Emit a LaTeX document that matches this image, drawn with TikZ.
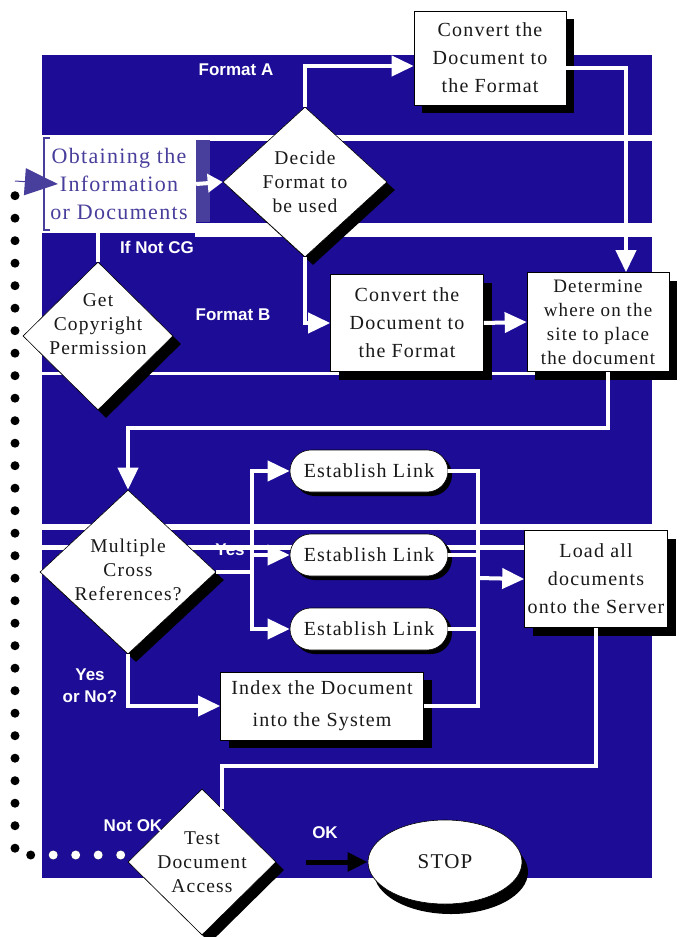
\documentclass[tikz,border=0pt]{standalone}
\usepackage{fontspec}
\setmainfont{Liberation Serif}[LetterSpace=6]
\newfontfamily\lblfont{Liberation Sans}
\usetikzlibrary{shapes.geometric,shapes.misc,arrows.meta,shadows,calc}
\definecolor{bgblue}{RGB}{28,12,150}
\definecolor{purp}{RGB}{72,62,155}
\definecolor{ink}{RGB}{25,25,25}

\begin{document}
\begin{tikzpicture}[x=1pt,y=-1pt,
  shadowed/.style={drop shadow={shadow xshift=8pt,shadow yshift=-8pt,fill=black,opacity=1}},
  stepbox/.style={rectangle, fill=white, draw=black, line width=0.6pt, shadowed,
    inner sep=2pt, align=center, text=ink, font=\fontsize{20}{28}\selectfont},
  decision/.style={diamond, fill=white, draw=black, line width=0.6pt, shadowed, inner sep=0pt},
  dtext/.style={align=center, text=ink, font=\fontsize{19.5}{24}\selectfont},
  linkpill/.style={rounded rectangle, fill=white, draw=black, line width=0.6pt,
    drop shadow={shadow xshift=4pt,shadow yshift=-4pt,fill=black,opacity=1},
    minimum width=158pt, minimum height=42pt, inner sep=0pt, text=ink,
    font=\fontsize{20}{24}\selectfont},
  flow/.style={draw=white, line width=4pt},
  flowarrow/.style={flow, -{Triangle[width=20pt,length=22pt]}},
  tag/.style={text=white, inner sep=0pt, align=center,
    font=\lblfont\bfseries\fontsize{17}{22}\selectfont},
  dotpath/.style={line width=9pt, line cap=round, dash pattern=on 0pt off 22.5pt, dash phase=15.5pt},
]
\useasboundingbox (0,0) rectangle (682,937);

% backdrop
\fill[bgblue] (42,55) rectangle (652,878);
\fill[white] (195,135) rectangle (652,141);
\fill[white] (195,223) rectangle (652,237);
\fill[white] (42,372) rectangle (652,374.5);
\fill[white] (0,524) rectangle (675,530);
\fill[white] (0,545) rectangle (530,550);

% process steps
\node[stepbox, minimum width=152pt, minimum height=94pt] (conv1) at (490,58)
  {Convert the\\Document to\\the Format};
\node[decision, minimum width=164pt, minimum height=150pt,
  label={[dtext]center:Decide\\Format to\\be used}] (decide) at (305,182) {};
\node[rectangle, fill=white, minimum width=154pt, minimum height=98pt, inner sep=0pt,
  align=center, text=purp, font=\fontsize{22}{28}\selectfont] (obtain) at (119,184)
  {Obtaining the\\Information\\or Documents};
\fill[purp] ([yshift=-5pt]obtain.north east) rectangle ([xshift=14pt,yshift=11pt]obtain.south east);
\draw[purp, line width=2.5pt] ([xshift=8pt,yshift=-3pt]obtain.north west) -- ([xshift=2pt,yshift=-3pt]obtain.north west)
  -- ([xshift=2pt,yshift=3pt]obtain.south west) -- ([xshift=8pt,yshift=3pt]obtain.south west);
\node[decision, minimum width=150pt, minimum height=148pt,
  label={[dtext,yshift=12pt]center:Get\\Copyright\\Permission}] (copyright) at (98,336) {};
\node[stepbox, minimum width=153pt, minimum height=97pt] (conv2) at (407,323)
  {Convert the\\Document to\\the Format};
\node[stepbox, minimum width=142pt, minimum height=99pt, font=\fontsize{19}{24}\selectfont]
  (determine) at (598,322) {Determine\\where on the\\site to place\\the document};
\node[decision, minimum width=176pt, minimum height=164pt,
  label={[dtext,yshift=2pt]center:Multiple\\Cross\\References?}] (multiple) at (128,572) {};
\node[linkpill] (link1) at (369,471) {Establish Link};
\node[linkpill] (link2) at (369,555) {Establish Link};
\node[linkpill] (link3) at (369,629) {Establish Link};
\node[stepbox, minimum width=143pt, minimum height=97pt] (load) at (596,579)
  {Load all\\documents\\onto the Server};
\node[stepbox, minimum width=203pt, minimum height=68pt, font=\fontsize{20}{32}\selectfont]
  (index) at (322,706) {Index the Document\\into the System};
\node[decision, minimum width=148pt, minimum height=146pt,
  label={[dtext]center:Test\\Document\\Access}] (test) at (202,862) {};
\node[ellipse, fill=white, draw=black, line width=0.6pt,
  drop shadow={shadow xshift=6pt,shadow yshift=-10pt,fill=black,opacity=1},
  minimum width=154pt, minimum height=84pt, text=ink, font=\fontsize{21}{24}\selectfont]
  (stop) at (445,862) {STOP};

% connectors
\draw[flow, -{Triangle[width=18pt,length=15pt]}] (obtain.east) -- (decide.west);
\draw[flowarrow] (decide.north) |- ([yshift=-8pt]conv1.west);
\draw[flowarrow] ([yshift=-10pt]conv1.east) -| ([xshift=28pt]determine.north);
\draw[flowarrow] (decide.south) |- (conv2.west);
\draw[flowarrow] (conv2.east) -- (determine.west);
\draw[flow] (copyright.north |- obtain.south) -- (copyright.north);
\draw[flowarrow] ([xshift=10pt]determine.south) -- ++(0,56) -| (multiple.north);

\coordinate (split) at (252,572);
\draw[flow] (multiple.east) -- (split);
\draw[flowarrow] (split) |- (link1.west);
\draw[flowarrow] (split |- link2.west) -- (link2.west);
\draw[flowarrow] (split) |- (link3.west);

\coordinate (merge) at (478,578);
\draw[flow] (link1.east) -| (merge);
\draw[flow] (link2.east) -| (merge);
\draw[flow] (link3.east) -| (merge);
\draw[flow] (index.east) -| (merge);
\draw[flowarrow] (merge) -- (load.west);

\draw[flowarrow] (multiple.south) |- (index.west);
\draw[flow] (load.south) -- ++(0,138) -| ([xshift=20pt,yshift=-20pt]test.north);
\draw[line width=5pt, black, -{Triangle[width=18pt,length=20pt]}, shorten <=30pt]
  (test.east) -- (stop.west);

% return path when access fails
\coordinate (loopc) at (15,181);
\draw[dotpath, black] ([yshift=7pt]test.west) -| (loopc);
\begin{scope}
  \clip (42,55) rectangle (652,878);
  \draw[dotpath, white] ([yshift=7pt]test.west) -| (loopc);
\end{scope}
\draw[purp, line width=1pt, -{Triangle[width=27pt,length=33pt]}] (loopc) -- ([xshift=16pt]obtain.west);

% branch labels
\node[tag] (fmtA) at (236,70) {Format A};
\node[tag] (notcg) at (157,247) {If Not CG};
\node[tag] (fmtB) at (233,315) {Format B};
\node[tag] (yes1) at (230,550) {Yes};
\node[tag] (yesno) at (90,686) {Yes\\or No?};
\node[tag] (notok) at (133,826) {Not OK};
\node[tag] (ok) at (325,833) {OK};
\end{tikzpicture}
\end{document}
